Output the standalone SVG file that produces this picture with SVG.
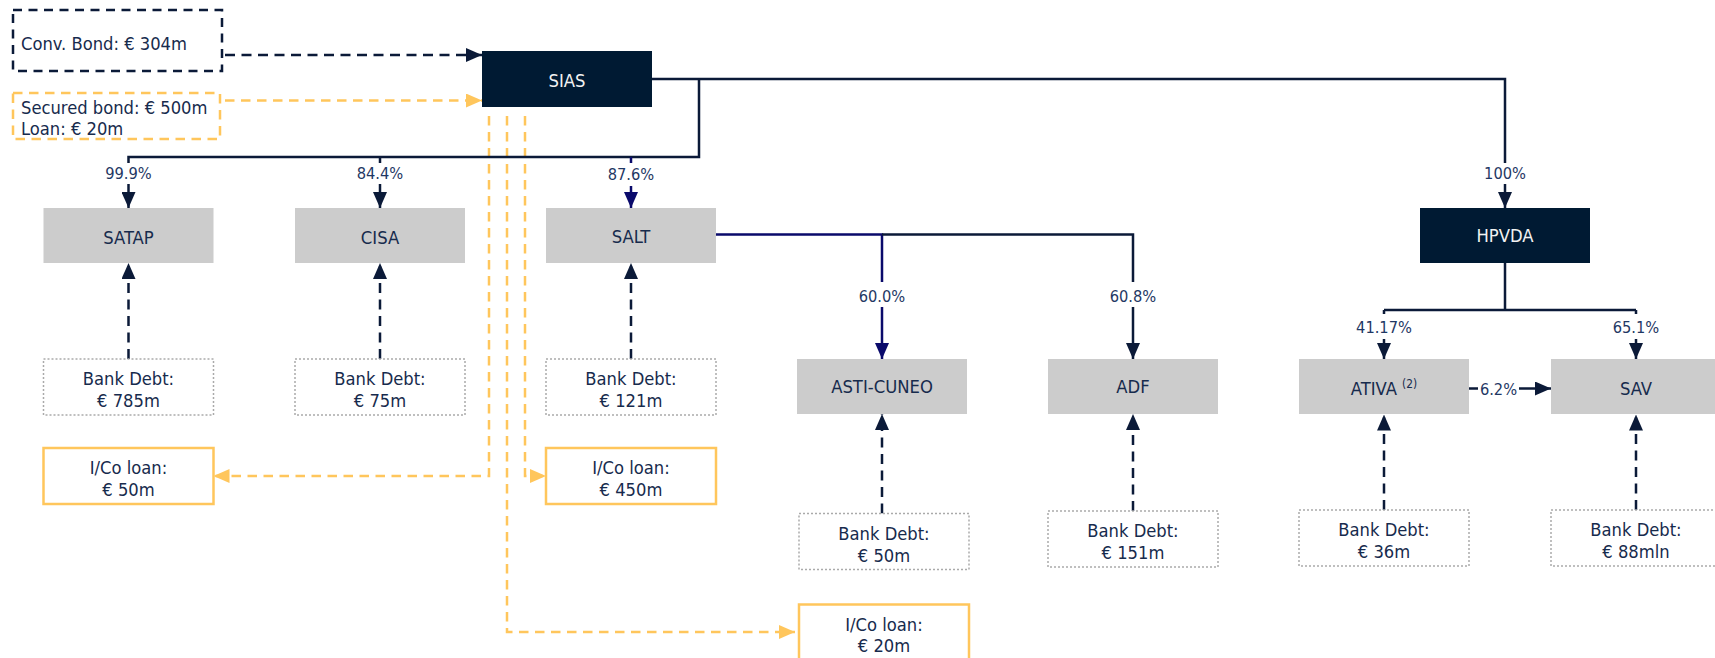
<svg xmlns="http://www.w3.org/2000/svg" width="1715" height="658" viewBox="0 0 1715 658">
<style>
text{font-family:"DejaVu Sans Condensed","DejaVu Sans","Liberation Sans",sans-serif;font-stretch:condensed;fill:#172b4d;font-size:18.2px}
.m{text-anchor:middle}
.lbl{font-size:18.3px;text-anchor:middle}
.w{fill:#f2f2f2}
.pct{font-size:16.3px;fill:#1f3864;text-anchor:middle}
.grey{fill:#cccccc}
.dark{fill:#001a33}
.bank{fill:#ffffff;stroke:#aaaaaa;stroke-width:1.5;stroke-dasharray:2 2}
.ico{fill:#ffffff;stroke:#ffc65c;stroke-width:2.5}
.c{fill:none;stroke:#0b1a38;stroke-width:2.5}
.cb{fill:none;stroke:#0a0a6b;stroke-width:2.5}
.dd{fill:none;stroke:#0b1a38;stroke-width:2.5;stroke-dasharray:10 6.5}
.y{fill:none;stroke:#ffc65c;stroke-width:2.5;stroke-dasharray:9.5 6.5}
</style>
<defs>
<marker id="ad" markerUnits="userSpaceOnUse" markerWidth="16" markerHeight="14" refX="16" refY="7" orient="auto"><path d="M0,0 L16,7 L0,14 z" fill="#0b1a38"/></marker>
<marker id="ab" markerUnits="userSpaceOnUse" markerWidth="16" markerHeight="14" refX="16" refY="7" orient="auto"><path d="M0,0 L16,7 L0,14 z" fill="#0a0a6b"/></marker>
<marker id="ay" markerUnits="userSpaceOnUse" markerWidth="16" markerHeight="14" refX="16" refY="7" orient="auto"><path d="M0,0 L16,7 L0,14 z" fill="#ffc65c"/></marker>
</defs>
<rect width="1715" height="658" fill="#ffffff"/>

<g id="connectors">
<path class="dd" d="M225,55 H482" marker-end="url(#ad)"/>
<path class="y" d="M225,100.5 H482" marker-end="url(#ay)"/>
<path class="y" d="M489,116 V476 H213.5" marker-end="url(#ay)"/>
<path class="y" d="M525,116 V476 H546" marker-end="url(#ay)"/>
<path class="y" d="M507,116 V632 H795" marker-end="url(#ay)"/>

<path class="c" d="M652,79 H1505 V163"/>
<path class="c" d="M1505,184 V208" marker-end="url(#ad)"/>
<path class="c" d="M699,79 V157 H128.5 V163"/>
<path class="c" d="M128.5,184 V208" marker-end="url(#ad)"/>
<path class="c" d="M380,157 V163"/>
<path class="c" d="M380,184 V208" marker-end="url(#ad)"/>
<path class="cb" d="M631,157 V163"/>
<path class="cb" d="M631,186 V208" marker-end="url(#ab)"/>

<path class="cb" d="M716,234.5 H882 V282"/>
<path class="cb" d="M882,307 V359" marker-end="url(#ab)"/>
<path class="c" d="M882,234.5 H1133 V282"/>
<path class="c" d="M1133,307 V359" marker-end="url(#ad)"/>

<path class="c" d="M1505,262 V310 M1384,310 H1636 M1384,310 V314 M1636,310 V314"/>
<path class="c" d="M1384,339 V359" marker-end="url(#ad)"/>
<path class="c" d="M1636,339 V359" marker-end="url(#ad)"/>
<path class="c" d="M1469,388.5 H1478"/>
<path class="c" d="M1519,388.5 H1551" marker-end="url(#ad)"/>

<path class="dd" d="M128.5,359 V263" marker-end="url(#ad)"/>
<path class="dd" d="M380,359 V263" marker-end="url(#ad)"/>
<path class="dd" d="M631,359 V263" marker-end="url(#ad)"/>
<path class="dd" d="M882,513.5 V414" marker-end="url(#ad)"/>
<path class="dd" d="M1133,511 V414" marker-end="url(#ad)"/>
<path class="dd" d="M1384,510 V414.5" marker-end="url(#ad)"/>
<path class="dd" d="M1636,510 V414.5" marker-end="url(#ad)"/>

<text class="pct" x="128.5" y="179.3">99.9%</text>
<text class="pct" x="380" y="179.3">84.4%</text>
<text class="pct" x="631" y="179.8">87.6%</text>
<text class="pct" x="1505" y="179.3">100%</text>
<text class="pct" x="882" y="301.7">60.0%</text>
<text class="pct" x="1133" y="301.7">60.8%</text>
<text class="pct" x="1384" y="332.7">41.17%</text>
<text class="pct" x="1636" y="332.7">65.1%</text>
<text class="pct" x="1498.5" y="394.8">6.2%</text>
</g>

<g id="conv-bond">
<rect x="13" y="10" width="209" height="61" fill="#ffffff" stroke="#0b1a38" stroke-width="2.5" stroke-dasharray="9 6.5"/>
<text x="21" y="49.6">Conv. Bond: € 304m</text>
</g>
<g id="secured-bond">
<rect x="13" y="93" width="207" height="46" fill="#ffffff" stroke="#ffc65c" stroke-width="2.5" stroke-dasharray="9.5 6.5"/>
<text x="21" y="114.3">Secured bond: € 500m</text>
<text x="21" y="135">Loan: € 20m</text>
</g>

<g id="sias">
<rect class="dark" x="482" y="51" width="170" height="56"/>
<text class="lbl w" x="567" y="87.3">SIAS</text>
</g>
<g id="satap">
<rect class="grey" x="43.5" y="208" width="170" height="55"/>
<text class="lbl" x="128.5" y="244">SATAP</text>
</g>
<g id="cisa">
<rect class="grey" x="295" y="208" width="170" height="55"/>
<text class="lbl" x="380" y="244">CISA</text>
</g>
<g id="salt">
<rect class="grey" x="546" y="208" width="170" height="55"/>
<text class="lbl" x="631" y="242.5">SALT</text>
</g>
<g id="hpvda">
<rect class="dark" x="1420" y="208" width="170" height="55"/>
<text class="lbl w" x="1505" y="242">HPVDA</text>
</g>
<g id="asti-cuneo">
<rect class="grey" x="797" y="359" width="170" height="55"/>
<text class="lbl" x="882" y="393">ASTI-CUNEO</text>
</g>
<g id="adf">
<rect class="grey" x="1048" y="359" width="170" height="55"/>
<text class="lbl" x="1133" y="393">ADF</text>
</g>
<g id="ativa">
<rect class="grey" x="1299" y="359" width="170" height="55"/>
<text class="lbl" x="1384" y="395">ATIVA <tspan font-size="11.8" dy="-7.5">(2)</tspan></text>
</g>
<g id="sav">
<rect class="grey" x="1551" y="359" width="170" height="55"/>
<text class="lbl" x="1636" y="395">SAV</text>
</g>

<g id="bank-satap">
<rect class="bank" x="43.5" y="359" width="170" height="56"/>
<text class="m" x="128.5" y="385">Bank Debt:</text>
<text class="m" x="128.5" y="406.6">€ 785m</text>
</g>
<g id="bank-cisa">
<rect class="bank" x="295" y="359" width="170" height="56"/>
<text class="m" x="380" y="385">Bank Debt:</text>
<text class="m" x="380" y="406.6">€ 75m</text>
</g>
<g id="bank-salt">
<rect class="bank" x="546" y="359" width="170" height="56"/>
<text class="m" x="631" y="385">Bank Debt:</text>
<text class="m" x="631" y="406.6">€ 121m</text>
</g>
<g id="bank-asti">
<rect class="bank" x="799" y="513.5" width="170" height="56"/>
<text class="m" x="884" y="539.5">Bank Debt:</text>
<text class="m" x="884" y="561.5">€ 50m</text>
</g>
<g id="bank-adf">
<rect class="bank" x="1048" y="511" width="170" height="56"/>
<text class="m" x="1133" y="537">Bank Debt:</text>
<text class="m" x="1133" y="559">€ 151m</text>
</g>
<g id="bank-ativa">
<rect class="bank" x="1299" y="510" width="170" height="56"/>
<text class="m" x="1384" y="536">Bank Debt:</text>
<text class="m" x="1384" y="558">€ 36m</text>
</g>
<g id="bank-sav">
<rect class="bank" x="1551" y="510" width="170" height="56"/>
<text class="m" x="1636" y="536">Bank Debt:</text>
<text class="m" x="1636" y="558">€ 88mln</text>
</g>

<g id="ico-satap">
<rect class="ico" x="43.5" y="448" width="170" height="56"/>
<text class="m" x="128.5" y="473.5">I/Co loan:</text>
<text class="m" x="128.5" y="496">€ 50m</text>
</g>
<g id="ico-salt">
<rect class="ico" x="546" y="448" width="170" height="56"/>
<text class="m" x="631" y="473.5">I/Co loan:</text>
<text class="m" x="631" y="496">€ 450m</text>
</g>
<g id="ico-asti">
<rect class="ico" x="799" y="604.5" width="170" height="56"/>
<text class="m" x="884" y="630.5">I/Co loan:</text>
<text class="m" x="884" y="652.3">€ 20m</text>
</g>
</svg>
